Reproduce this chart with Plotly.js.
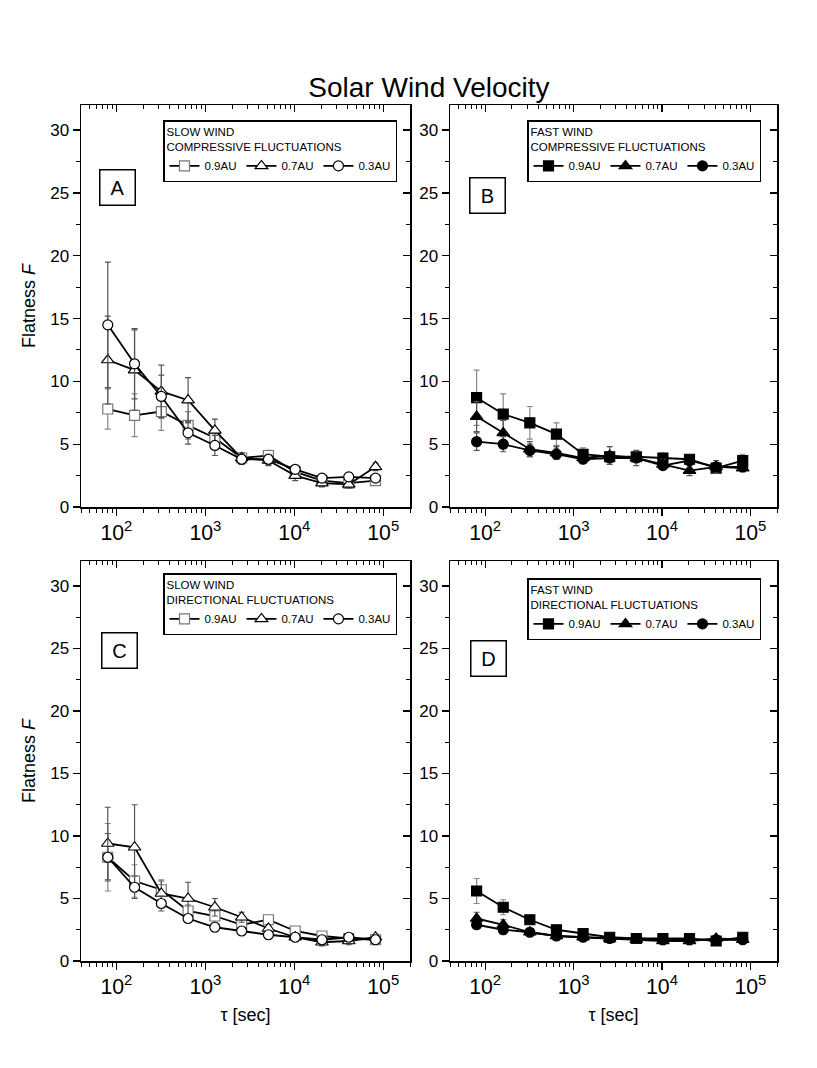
<!DOCTYPE html>
<html>
<head>
<meta charset="utf-8">
<script src="https://cdn.plot.ly/plotly-3.0.1.min.js"></script>
<style>
  body { margin: 0; background: #fff; }
  #plot { width: 817px; height: 1068px; }
</style>
</head>
<body>
<div id="plot"></div>
<script>
// time lags (sec)
const tau = [80, 160, 320, 640, 1280, 2560, 5120, 10240, 20480, 40960, 81920];
const distances = ['0.9AU', '0.7AU', '0.3AU'];

// A: slow wind, compressive
const slowCompF09 = [7.8, 7.3, 7.6, 6.5, 5.5, 3.9, 4.1, 2.8, 2.1, 1.9, 2.1];
const slowCompE09 = [1.6, 1.7, 1.5, 1.1, 0.7, 0.4, 0.4, 0.3, 0.3, 0.3, 0.3];
const slowCompF07 = [11.7, 10.9, 9.2, 8.5, 6.1, 3.9, 3.7, 2.5, 1.9, 1.8, 3.2];
const slowCompE07 = [3.5, 3.2, 2.1, 1.8, 0.9, 0.4, 0.4, 0.4, 0.3, 0.3, 0.3];
const slowCompF03 = [14.5, 11.4, 8.8, 5.9, 4.9, 3.8, 3.8, 3.0, 2.3, 2.4, 2.3];
const slowCompE03 = [5.0, 2.8, 1.7, 0.9, 0.8, 0.4, 0.4, 0.3, 0.3, 0.3, 0.3];

// B: fast wind, compressive
const fastCompF09 = [8.7, 7.4, 6.7, 5.8, 4.2, 4.0, 4.0, 3.9, 3.8, 3.1, 3.7];
const fastCompE09 = [2.2, 1.6, 1.3, 0.9, 0.5, 0.4, 0.3, 0.4, 0.3, 0.3, 0.5];
const fastCompF07 = [7.2, 5.9, 4.6, 4.3, 3.9, 4.1, 3.9, 3.4, 2.9, 3.2, 3.1];
const fastCompE07 = [1.2, 1.0, 0.6, 0.5, 0.3, 0.7, 0.6, 0.4, 0.4, 0.5, 0.3];
const fastCompF03 = [5.2, 5.0, 4.5, 4.2, 3.8, 3.9, 3.9, 3.3, 3.7, 3.2, 3.2];
const fastCompE03 = [0.7, 0.6, 0.5, 0.4, 0.3, 0.3, 0.3, 0.3, 0.3, 0.3, 0.3];

// C: slow wind, directional
const slowDirF09 = [8.3, 6.4, 5.7, 4.0, 3.6, 2.9, 3.3, 2.4, 2.0, 1.8, 1.7];
const slowDirE09 = [2.7, 1.3, 0.8, 0.5, 0.5, 0.3, 0.3, 0.3, 0.3, 0.2, 0.2];
const slowDirF07 = [9.4, 9.1, 5.4, 5.0, 4.3, 3.5, 2.6, 1.9, 1.5, 1.6, 1.9];
const slowDirE07 = [2.9, 3.4, 1.0, 1.3, 0.7, 0.4, 0.3, 0.3, 0.3, 0.3, 0.2];
const slowDirF03 = [8.3, 5.9, 4.6, 3.4, 2.7, 2.4, 2.1, 1.9, 1.7, 1.9, 1.7];
const slowDirE03 = [1.9, 0.9, 0.6, 0.3, 0.2, 0.2, 0.2, 0.2, 0.2, 0.2, 0.2];

// D: fast wind, directional
const fastDirF09 = [5.6, 4.3, 3.3, 2.5, 2.2, 1.9, 1.8, 1.8, 1.8, 1.6, 1.9];
const fastDirE09 = [1.0, 0.6, 0.3, 0.3, 0.2, 0.2, 0.2, 0.2, 0.2, 0.2, 0.2];
const fastDirF07 = [3.4, 2.9, 2.3, 2.0, 1.9, 1.8, 1.7, 1.6, 1.6, 1.8, 1.7];
const fastDirE07 = [0.5, 0.4, 0.3, 0.3, 0.3, 0.2, 0.3, 0.3, 0.3, 0.2, 0.2];
const fastDirF03 = [2.9, 2.5, 2.3, 2.0, 1.9, 1.8, 1.8, 1.7, 1.7, 1.7, 1.7];
const fastDirE03 = [0.3, 0.2, 0.2, 0.2, 0.2, 0.2, 0.2, 0.2, 0.2, 0.2, 0.2];

const panelLetters = ['A', 'B', 'C', 'D'];
const legendHeads = [
    'SLOW WIND<br>COMPRESSIVE FLUCTUATIONS',
    'FAST WIND<br>COMPRESSIVE FLUCTUATIONS',
    'SLOW WIND<br>DIRECTIONAL FLUCTUATIONS',
    'FAST WIND<br>DIRECTIONAL FLUCTUATIONS'
];

const panels = [
    { F: [slowCompF09, slowCompF07, slowCompF03], E: [slowCompE09, slowCompE07, slowCompE03], open: true },
    { F: [fastCompF09, fastCompF07, fastCompF03], E: [fastCompE09, fastCompE07, fastCompE03], open: false },
    { F: [slowDirF09, slowDirF07, slowDirF03], E: [slowDirE09, slowDirE07, slowDirE03], open: true },
    { F: [fastDirF09, fastDirF07, fastDirF03], E: [fastDirE09, fastDirE07, fastDirE03], open: false }
];

const symbols = ['square', 'triangle-up', 'circle'];
const font = 'Liberation Sans, Arial, sans-serif';
const W = 817, H = 1068;

// panel frames in pixels: [left, right, top, bottom]
const frames = [
    [81, 410, 105, 507],
    [450, 777, 105, 507],
    [81, 410, 561, 961],
    [450, 777, 561, 961]
];
const legendPos = [[163, 120], [527, 120], [163, 573], [527, 578]];
const letterPos = [[118, 187], [487, 195], [119, 650], [488, 658]];

const xRange = [Math.log10(40), Math.log10(2.0e5)];
const yRange = [0, 32];

const traces = [];
const layout = {
    width: W,
    height: H,
    margin: { l: 0, r: 0, t: 0, b: 0, autoexpand: false },
    paper_bgcolor: 'white',
    plot_bgcolor: 'white',
    font: { family: font, color: 'black', size: 16 },
    showlegend: true,
    title: {
        text: 'Solar Wind Velocity',
        font: { size: 28, family: font },
        x: 0.525, xanchor: 'center',
        y: 1 - 87 / H, yanchor: 'middle'
    },
    annotations: [],
    shapes: []
};

panels.forEach((p, i) => {
    const n = i + 1;
    const sfx = n === 1 ? '' : String(n);
    const ov = String(n + 4);
    const [l, r, t, b] = frames[i];
    const xd = [l / W, r / W];
    const yd = [1 - b / H, 1 - t / H];
    const legKey = n === 1 ? 'legend' : 'legend' + n;

    p.F.forEach((vals, k) => {
        const edge = p.open ? (k === 0 ? '#777' : 'black') : 'black';
        traces.push({
            x: tau,
            y: vals,
            xaxis: 'x' + sfx,
            yaxis: 'y' + sfx,
            type: 'scatter',
            mode: 'lines+markers',
            name: distances[k],
            legend: legKey,
            line: { color: 'black', width: 1.8 },
            marker: {
                symbol: symbols[k],
                size: k === 1 ? 11 : 10,
                color: p.open ? 'white' : 'black',
                line: { color: edge, width: 1.2 }
            },
            error_y: {
                type: 'data',
                array: p.E[k],
                visible: true,
                color: k === 0 ? '#888' : '#555',
                thickness: 1.2,
                width: 3
            }
        });
    });
    // dummy trace so the inner tick axes (top / right) are drawn
    traces.push({
        x: [tau[0]], y: [p.F[0][0]],
        xaxis: 'x' + ov, yaxis: 'y' + ov,
        type: 'scatter', mode: 'markers',
        marker: { opacity: 0 }, showlegend: false, hoverinfo: 'skip'
    });

    const bottom = n > 2;
    layout['xaxis' + sfx] = {
        type: 'log', range: xRange, domain: xd, anchor: 'y' + sfx,
        dtick: 1, exponentformat: 'power', showexponent: 'all',
        ticks: 'outside', ticklen: 7, tickwidth: 1.3, tickcolor: 'black',
        minor: { ticks: 'outside', ticklen: 4, tickwidth: 1, dtick: 'D1', tickcolor: 'black', showgrid: false },
        showline: true, linecolor: 'black', linewidth: 1.5, mirror: true,
        showgrid: false, zeroline: false,
        tickfont: { size: 17 },
        title: bottom ? { text: '\u03c4 [sec]', font: { size: 18 }, standoff: 10 } : { text: '' }
    };
    layout['yaxis' + sfx] = {
        range: yRange, domain: yd, anchor: 'x' + sfx,
        dtick: 5, ticks: 'outside', ticklen: 7, tickwidth: 1.3, tickcolor: 'black',
        minor: { ticks: 'outside', ticklen: 4, tickwidth: 1, dtick: 2.5, tickcolor: 'black', showgrid: false },
        showline: true, linecolor: 'black', linewidth: 1.5, mirror: true,
        showgrid: false, zeroline: false,
        tickfont: { size: 17 },
        title: (n % 2 === 1) ? { text: 'Flatness <i>F</i>', font: { size: 18 }, standoff: 10 } : { text: '' }
    };
    layout['xaxis' + ov] = {
        type: 'log', range: xRange, overlaying: 'x' + sfx, anchor: 'y' + sfx, side: 'top',
        dtick: 1, ticks: 'inside', ticklen: 7, tickwidth: 1.3, tickcolor: 'black',
        minor: { ticks: 'inside', ticklen: 4, tickwidth: 1, dtick: 'D1', tickcolor: 'black', showgrid: false },
        showticklabels: false, showline: false, showgrid: false, zeroline: false
    };
    layout['yaxis' + ov] = {
        range: yRange, overlaying: 'y' + sfx, anchor: 'x' + sfx, side: 'right',
        dtick: 5, ticks: 'inside', ticklen: 7, tickwidth: 1.3, tickcolor: 'black',
        minor: { ticks: 'inside', ticklen: 4, tickwidth: 1, dtick: 2.5, tickcolor: 'black', showgrid: false },
        showticklabels: false, showline: false, showgrid: false, zeroline: false
    };

    layout[legKey] = {
        x: legendPos[i][0] / W, y: 1 - legendPos[i][1] / H,
        xanchor: 'left', yanchor: 'top',
        orientation: 'h',
        bgcolor: 'white', bordercolor: 'black', borderwidth: 1.5,
        font: { size: 11.5, family: font },
        title: { text: legendHeads[i], side: 'top', font: { size: 11.5, family: font } },
        itemwidth: 30, tracegroupgap: 0,
        traceorder: 'normal'
    };

    layout.annotations.push({
        xref: 'paper', yref: 'paper',
        x: letterPos[i][0] / W, y: 1 - letterPos[i][1] / H,
        xanchor: 'center', yanchor: 'middle',
        text: panelLetters[i], showarrow: false,
        font: { size: 20, family: font },
        width: 32, height: 32,
        bordercolor: 'black', borderwidth: 1.5, borderpad: 1, bgcolor: 'white'
    });
});

Plotly.newPlot('plot', traces, layout, { staticPlot: true });
</script>
</body>
</html>
